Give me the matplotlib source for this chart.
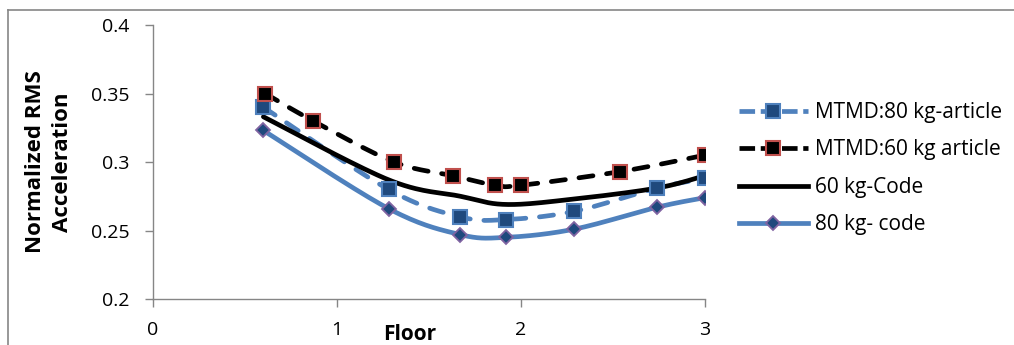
import matplotlib
matplotlib.use("Agg")
import matplotlib.pyplot as plt
import numpy as np
from matplotlib.lines import Line2D

# ── data ─────────────────────────────────────────────────────────────────────
x_80_article = [0.60, 1.28, 1.67, 1.92, 2.29, 2.74, 3.00]
y_80_article = [0.340, 0.280, 0.260, 0.258, 0.264, 0.281, 0.288]

x_60_article = [0.61, 0.87, 1.31, 1.63, 1.86, 2.00, 2.54, 3.00]
y_60_article = [0.350, 0.330, 0.300, 0.290, 0.283, 0.283, 0.293, 0.305]

x_60_code = [0.60, 1.28, 1.67, 1.92, 2.29, 2.74, 3.00]
y_60_code = [0.333, 0.287, 0.275, 0.269, 0.273, 0.281, 0.290]

x_80_code = [0.60, 1.28, 1.67, 1.92, 2.29, 2.74, 3.00]
y_80_code = [0.323, 0.266, 0.247, 0.245, 0.251, 0.267, 0.274]

labels = ["MTMD:80 kg-article", "MTMD:60 kg article", "60 kg-Code", "80 kg- code"]
x_ticks = [0, 1, 2, 3]
y_ticks = [0.2, 0.25, 0.3, 0.35, 0.4]

_C = {
    "blue":   "#4F81BD",
    "navy":   "#1F497D",
    "red":    "#C0504D",
    "purple": "#8064A2",
    "axis":   "#868686",
    "text":   "#000000",
}

plt.rcParams.update({
    "font.family": ["Open Sans", "DejaVu Sans"],
    "font.size": 15,
})


def _smooth(xs, ys, n=30):
    """Excel-style smoothed line through the points (Catmull-Rom, tension 0.5)."""
    xs = np.asarray(xs, float)
    ys = np.asarray(ys, float)
    px = np.concatenate([[xs[0]], xs, [xs[-1]]])
    py = np.concatenate([[ys[0]], ys, [ys[-1]]])
    ox, oy = [], []
    t = np.linspace(0, 1, n)
    for i in range(1, len(px) - 2):
        p0x, p1x, p2x, p3x = px[i - 1:i + 3]
        p0y, p1y, p2y, p3y = py[i - 1:i + 3]
        c1x = p1x + (p2x - p0x) / 6
        c1y = p1y + (p2y - p0y) / 6
        c2x = p2x - (p3x - p1x) / 6
        c2y = p2y - (p3y - p1y) / 6
        bx = ((1 - t) ** 3 * p1x + 3 * (1 - t) ** 2 * t * c1x
              + 3 * (1 - t) * t ** 2 * c2x + t ** 3 * p2x)
        by = ((1 - t) ** 3 * p1y + 3 * (1 - t) ** 2 * t * c1y
              + 3 * (1 - t) * t ** 2 * c2y + t ** 3 * p2y)
        ox.extend(bx)
        oy.extend(by)
    return np.array(ox), np.array(oy)


fig = plt.figure(figsize=(10.14, 3.45), dpi=100)
ax = fig.add_axes([153 / 1014, 46 / 345, 552 / 1014, 274 / 345])

lw = 3.4
dash = (3.0, 2.9)

# MTMD:80 kg-article
sx, sy = _smooth(x_80_article, y_80_article)
ax.plot(sx, sy, color=_C["blue"], lw=lw, ls=(0, dash), dash_capstyle="round", zorder=3)
ax.plot(x_80_article, y_80_article, ls="none", marker="s", ms=10,
        mfc=_C["navy"], mec=_C["blue"], mew=1.5, zorder=5)

# MTMD:60 kg article
sx, sy = _smooth(x_60_article, y_60_article)
ax.plot(sx, sy, color="black", lw=lw, ls=(0, dash), dash_capstyle="round", zorder=3)
ax.plot(x_60_article, y_60_article, ls="none", marker="s", ms=10,
        mfc="black", mec=_C["red"], mew=1.5, zorder=5)

# 60 kg-Code
sx, sy = _smooth(x_60_code, y_60_code)
ax.plot(sx, sy, color="black", lw=lw, solid_capstyle="round", zorder=4)

# 80 kg- code
sx, sy = _smooth(x_80_code, y_80_code)
ax.plot(sx, sy, color=_C["blue"], lw=lw, solid_capstyle="round", zorder=3)
ax.plot(x_80_code, y_80_code, ls="none", marker="D", ms=7.5,
        mfc=_C["navy"], mec=_C["purple"], mew=1.3, zorder=5)

ax.set_xlim(0, 3)
ax.set_ylim(0.2, 0.4)
ax.set_xticks(x_ticks)
ax.set_xticklabels([str(v) for v in x_ticks])
ax.set_yticks(y_ticks)
ax.set_yticklabels([f"{v:g}" for v in y_ticks])

for side in ("top", "right"):
    ax.spines[side].set_visible(False)
for side in ("left", "bottom"):
    ax.spines[side].set_color(_C["axis"])
    ax.spines[side].set_linewidth(1.0)
ax.tick_params(axis="both", colors=_C["axis"], labelcolor=_C["text"],
               length=6, width=1.0, direction="out", labelsize=14)
ax.tick_params(axis="x", pad=10)
ax.tick_params(axis="y", pad=11)

ax.set_xlabel("Floor", fontweight="bold", fontsize=15)
ax.xaxis.set_label_coords(257 / 552, -0.09)
ax.set_ylabel("Normalized RMS\nAcceleration", fontweight="bold", fontsize=16,
              linespacing=1.35, va="center")
ax.yaxis.set_label_coords(-0.188, 0.5)

# legend
handles = [
    Line2D([], [], color=_C["blue"], lw=lw, ls=(0, (3.3, 1.2)), marker="s", ms=10,
           mfc=_C["navy"], mec=_C["blue"], mew=1.5),
    Line2D([], [], color="black", lw=lw, ls=(0, (3.3, 1.2)), marker="s", ms=10,
           mfc="black", mec=_C["red"], mew=1.5),
    Line2D([], [], color="black", lw=lw),
    Line2D([], [], color=_C["blue"], lw=lw, marker="D", ms=7.5,
           mfc=_C["navy"], mec=_C["purple"], mew=1.3),
]
fig.legend(handles, labels, loc="upper left", bbox_to_anchor=(739 / 1014, 1 - 102 / 345),
           frameon=False, fontsize=15, handlelength=3.3, handletextpad=0.35,
           labelspacing=0.79, borderaxespad=0, borderpad=0)

# outer chart border (top and left edges visible)
fig.add_artist(Line2D([8 / 1014, 1.0], [1 - 10 / 345, 1 - 10 / 345],
                      transform=fig.transFigure, color=_C["axis"], lw=1.2))
fig.add_artist(Line2D([8 / 1014, 8 / 1014], [0, 1 - 10 / 345],
                      transform=fig.transFigure, color=_C["axis"], lw=1.2))

fig.savefig("out.png", dpi=100)
